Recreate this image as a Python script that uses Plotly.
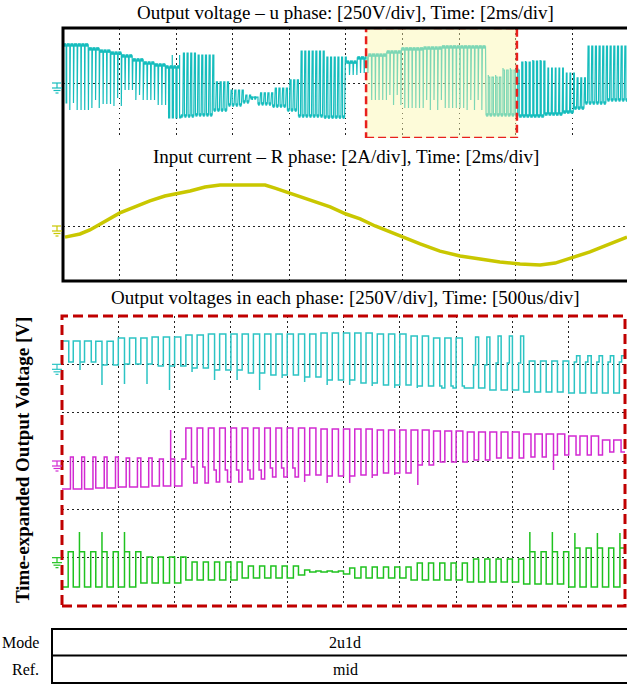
import plotly.graph_objects as go
from bisect import bisect_right

W, H = 627, 684


def px(x):
    return x / W


def py(y):
    return 1 - y / H


# ---------------- Upper scope: u-phase output voltage (2 ms/div, 250 V/div) ----------------
TOP_T_END = 19.93          # ms visible across the screen
TOP_PERIOD = 0.13          # ms, switching period as displayed
u_seg_t = [0, 0.49, 0.88, 1.24, 1.66, 2.01, 2.44, 2.83, 3.25, 3.60,
           4.06, 4.66, 5.26, 5.83, 6.26, 6.61, 6.89, 7.32, 7.85, 8.30,
           9.15, 9.97, 10.35, 10.67, 11.38, 11.91, 12.62, 13.32, 14.10, 14.91,
           15.44, 16.04, 16.50, 17.03, 17.56, 17.99, 18.45, 19.15]
u_dwell = [173, 173, 155, 145, 136, 123, 105, 91, 82, 73,
           -150, -145, -123, -100, -86, -68, -95, -105, -123, -150,
           -155, 95, 114, 127, 141, 155, 159, 164, 164, -145,
           -145, -150, -150, -141, -132, -114, -91, -77]
u_pulse = [-91, -123, -77, -95, -68, -32, -55, -77, -100, -159,
           136, 127, 5, -32, -55, -64, -45, -23, 14, 145,
           118, 36, 45, -77, -55, -114, -77, -114, -77, 27,
           59, 95, 100, 68, 45, 23, 168, 168]
u_spike = [-123, -55, -114, -41, -105, 14, -77, -32, -55, 127,
           36, 45, -14, -41, -64, -77, -59, -41, -5, 82,
           95, 50, 59, -23, -100, -41, -123, -68, -123, 36,
           68, 100, 105, 50, 36, 14, -41, -32]
u_duty = [0.15, 0.15, 0.15, 0.15, 0.15, 0.2, 0.2, 0.2, 0.2, 0.3,
          0.45, 0.45, 0.5, 0.5, 0.5, 0.5, 0.5, 0.5, 0.5, 0.45,
          0.45, 0.2, 0.2, 0.15, 0.15, 0.15, 0.15, 0.15, 0.15, 0.4,
          0.4, 0.3, 0.3, 0.3, 0.3, 0.4, 0.45, 0.45]

# Input current, R phase (2 ms/div, 2 A/div)
i_t = [0.07, 0.60, 0.95, 1.31, 1.66, 2.01, 2.54, 3.07, 3.60, 3.99, 4.49, 5.02, 5.55,
       6.01, 6.61, 7.14, 7.49, 7.99, 8.38, 8.91, 9.44, 10.00, 10.50, 11.03, 11.56,
       12.02, 12.62, 13.32, 14.03, 14.74, 15.44, 16.15, 16.86, 17.39, 17.74, 18.09,
       18.62, 19.15, 19.68, 19.93]
i_amp = [-0.39, -0.28, -0.14, 0.07, 0.25, 0.46, 0.67, 0.88, 1.05, 1.12, 1.23, 1.37, 1.44,
         1.44, 1.44, 1.44, 1.33, 1.16, 1.02, 0.84, 0.67, 0.42, 0.25, 0.00, -0.21,
         -0.42, -0.63, -0.88, -1.05, -1.16, -1.26, -1.33, -1.37, -1.30, -1.19, -1.09,
         -0.91, -0.70, -0.49, -0.39]

# Zoomed window on the upper trace (ms)
zoom_t = [10.71, 16.04]

# ---------------- Lower scope: three phase outputs (500 us/div, 250 V/div) ----------------
BOT_T_END = 5.0
BOT_PERIOD = 0.1

cu_seg_t = [0, 0.249, 0.497, 0.737, 1.012, 1.270, 1.510, 1.758, 2.016, 2.291,
            2.513, 2.780, 3.002, 3.268, 3.508, 3.757, 4.005, 4.494]
cu_dwell = [121, 120, 136, 141, 152, 157, 157, 157, 157, 162,
            162, 157, 146, 136, -122, -133, -143, -148]
cu_pulse = [12, -4, 2, -9, -19, -29, -45, -55, -66, -81,
            -96, -107, -112, -122, 141, 146, 17, 44]
cu_spike = [-29, -107, -102, -133, -40, -81, -133, -71, -92, -107,
            -112, -122, -122, -112, -4, 7, 17, 12]
cu_duty = [0.4, 0.45, 0.45, 0.45, 0.45, 0.45, 0.45, 0.45, 0.45, 0.45,
           0.45, 0.45, 0.45, 0.45, 0.45, 0.45, 0.5, 0.5]

mv_seg_t = [0, 0.249, 0.497, 0.737, 1.012, 1.270, 1.510, 1.758, 2.016, 2.291,
            2.513, 2.780, 3.002, 3.268, 3.508, 3.757, 4.005, 4.245, 4.494, 4.778]
mv_dwell = [-145, -140, -135, -129, 171, 171, 171, 171, 171, 166,
            166, 160, 160, 155, 150, 150, 140, 140, 129, 109]
mv_pulse = [21, 21, 16, 10, -114, -109, -93, -83, -72, -78,
            -72, -62, -21, -5, 5, 16, 21, 31, 31, 47]
mv_spike = [21, 21, 16, 160, -31, -47, -47, -36, -109, -114,
            -88, -72, -124, -5, 5, 16, 21, -47, 31, 47]
mv_duty = [0.25, 0.25, 0.3, 0.35, 0.5, 0.5, 0.5, 0.5, 0.45, 0.45,
           0.45, 0.45, 0.4, 0.4, 0.4, 0.4, 0.35, 0.35, 0.35, 0.35]

gw_seg_t = [0, 0.631, 1.012, 1.510, 2.016, 2.158, 2.424, 2.513, 3.002, 3.508, 4.005, 4.494]
gw_dwell = [-152, -131, -115, -105, -90, -74, -84, -105, -115, -126, -136, -152]
gw_pulse = [30, 4, -22, -43, -64, -69, -53, -48, -28, -7, 30, 50]
gw_spike = [133, 4, -22, -43, -64, -69, -53, -48, -28, -7, 133, 128]
gw_duty = [0.45, 0.45, 0.45, 0.45, 0.45, 0.45, 0.45, 0.45, 0.45, 0.45, 0.45, 0.45]

mode_rows = ["Mode", "Ref."]
mode_vals = ["2u1d", "mid"]

CYAN = "#16bdbd"
CYAN_B = "#2cc4c4"
MAGENTA = "#d22ad2"
GREEN = "#1fc21f"
YELLOW = "#c9c700"
FONT = "Liberation Serif"


def pwm_wave(seg_t, dwell, pulse, spike, duty, t_end, period):
    """Step waveform: dwell level, then a pulse each switching period.
    A spike value beyond the pulse level is a transient on alternate edges;
    a spike value between dwell and pulse is an intermediate step.
    Also returns the dwell pieces alone (separated by None)."""
    xs, ys, bx, by = [], [], [], []
    k = 0
    while k * period < t_end:
        t0 = k * period
        t1 = t0 + period
        i = bisect_right(seg_t, t0) - 1
        D, A, B, d = dwell[i], pulse[i], spike[i], duty[i]
        tf = t0 + (1 - d) * period
        xs += [t0, tf]
        ys += [D, D]
        bx += [t0, tf, None]
        by += [D, D, None]
        if min(D, A) < B < max(D, A):
            tm = tf + 0.4 * d * period
            xs += [tf, tm, tm, t1]
            ys += [B, B, A, A]
        else:
            if k % 2 == 1 and B != A:
                xs.append(tf)
                ys.append(B)
            xs += [tf, t1]
            ys += [A, A]
        k += 1
    return xs, ys, bx, by


fig = go.Figure()

ux, uy, ubx, uby = pwm_wave(u_seg_t, u_dwell, u_pulse, u_spike, u_duty, TOP_T_END, TOP_PERIOD)
fig.add_trace(go.Scatter(x=ubx, y=uby, mode="lines", line=dict(color=CYAN, width=3.5),
                         xaxis="x", yaxis="y", hoverinfo="skip"))
fig.add_trace(go.Scatter(x=ux, y=uy, mode="lines", line=dict(color=CYAN, width=1.2),
                         xaxis="x", yaxis="y", hoverinfo="skip"))

fig.add_trace(go.Scatter(x=i_t, y=i_amp, mode="lines", line=dict(color=YELLOW, width=3.5),
                         xaxis="x2", yaxis="y2", hoverinfo="skip"))

cx, cy, _, _ = pwm_wave(cu_seg_t, cu_dwell, cu_pulse, cu_spike, cu_duty, BOT_T_END, BOT_PERIOD)
mx, my, _, _ = pwm_wave(mv_seg_t, mv_dwell, mv_pulse, mv_spike, mv_duty, BOT_T_END, BOT_PERIOD)
gx, gy, _, _ = pwm_wave(gw_seg_t, gw_dwell, gw_pulse, gw_spike, gw_duty, BOT_T_END, BOT_PERIOD)
fig.add_trace(go.Scatter(x=cx, y=cy, mode="lines", line=dict(color=CYAN_B, width=1.5),
                         xaxis="x3", yaxis="y3", hoverinfo="skip"))
fig.add_trace(go.Scatter(x=mx, y=my, mode="lines", line=dict(color=MAGENTA, width=1.5),
                         xaxis="x3", yaxis="y4", hoverinfo="skip"))
fig.add_trace(go.Scatter(x=gx, y=gy, mode="lines", line=dict(color=GREEN, width=1.5),
                         xaxis="x3", yaxis="y5", hoverinfo="skip"))

grid = dict(showgrid=True, gridcolor="#222", gridwidth=1, griddash="1.5px,3.5px",
            zeroline=False, showline=False, showticklabels=False, ticks="")
hidden = dict(visible=False, showgrid=False, zeroline=False)

fig.update_layout(
    width=W, height=H, margin=dict(l=0, r=0, t=0, b=0),
    paper_bgcolor="white", plot_bgcolor="white", showlegend=False,
    xaxis=dict(domain=[px(63), 1], range=[0, TOP_T_END], dtick=2, anchor="y", **grid),
    yaxis=dict(domain=[py(138), py(28)], range=[-250, 250], dtick=250, anchor="x", **grid),
    xaxis2=dict(domain=[px(63), 1], range=[0, TOP_T_END], dtick=2, anchor="y2", **grid),
    yaxis2=dict(domain=[py(281), py(169)], range=[-1.93, 2.0], dtick=2, anchor="x2", **grid),
    xaxis3=dict(domain=[px(62), px(625)], range=[0, BOT_T_END], dtick=0.5, anchor="y3", **grid),
    yaxis3=dict(domain=[py(606), py(316)], range=[-1250, 250], dtick=250, anchor="x3", **grid),
    yaxis4=dict(overlaying="y3", range=[-750, 750], anchor="x3", **hidden),
    yaxis5=dict(overlaying="y3", range=[-250, 1250], anchor="x3", **hidden),
)

shapes = []
# highlighted window on the u-phase trace
shapes.append(dict(type="rect", xref="x", yref="y", x0=zoom_t[0], x1=zoom_t[1], y0=-250, y1=250,
                   fillcolor="rgba(250,246,171,0.45)", line=dict(width=0), layer="above"))
shapes.append(dict(type="rect", xref="x", yref="y", x0=zoom_t[0], x1=zoom_t[1], y0=-250, y1=250,
                   line=dict(color="#e8201c", width=2.5, dash="8px,4px"), layer="above"))
# frame of the upper scope
shapes.append(dict(type="rect", xref="paper", yref="paper", x0=px(63), x1=px(640),
                   y0=py(281), y1=py(28), line=dict(color="black", width=3), layer="above"))
# frame of the time-expanded scope
shapes.append(dict(type="rect", xref="paper", yref="paper", x0=px(62), x1=px(625),
                   y0=py(606), y1=py(316), line=dict(color="#c00000", width=3, dash="10px,5px"),
                   layer="above"))
# table
shapes.append(dict(type="rect", xref="paper", yref="paper", x0=px(52), x1=px(640),
                   y0=py(683), y1=py(629), line=dict(color="black", width=2)))
shapes.append(dict(type="line", xref="paper", yref="paper", x0=px(52), x1=px(640),
                   y0=py(655.5), y1=py(655.5), line=dict(color="black", width=2)))


def ground_marker(yref, color):
    segs = [(-5, 4, 0, 0), (0, 0, 0, -5), (-5, 5, -5, -5), (-3.5, 3.5, -7.5, -7.5), (-1.5, 1.5, -10, -10)]
    out = []
    for x0, x1, y0, y1 in segs:
        out.append(dict(type="line", xref="paper", xsizemode="pixel", xanchor=px(57),
                        yref=yref, ysizemode="pixel", yanchor=0,
                        x0=x0, x1=x1, y0=y0, y1=y1, line=dict(color=color, width=1.2)))
    return out


shapes += ground_marker("y", CYAN)
shapes += ground_marker("y2", YELLOW)
shapes += ground_marker("y3", CYAN_B)
shapes += ground_marker("y4", MAGENTA)
shapes += ground_marker("y5", GREEN)
fig.update_layout(shapes=shapes)

ann = []


def text(x, y, s, size=19, xanchor="center", angle=0):
    ann.append(dict(x=px(x), y=py(y), xref="paper", yref="paper", text=s, showarrow=False,
                    xanchor=xanchor, yanchor="middle", textangle=angle,
                    font=dict(family=FONT, size=size, color="black")))


text(345, 13, "Output voltage \u2013 u phase: [250V/div], Time: [2ms/div]")
text(346, 157, "Input current \u2013 R phase: [2A/div], Time: [2ms/div]")
text(345, 298, "Output voltages in each phase: [250V/div], Time: [500us/div]")
text(22, 460, "<b>Time-expanded Output Voltage [V]</b>", size=19, angle=-90)
for row_y, lbl, val in zip([642, 669], mode_rows, mode_vals):
    text(41, row_y, lbl, size=16, xanchor="right")
    text(345, row_y, val, size=16)
fig.update_layout(annotations=ann)

fig.write_html("out.html")
